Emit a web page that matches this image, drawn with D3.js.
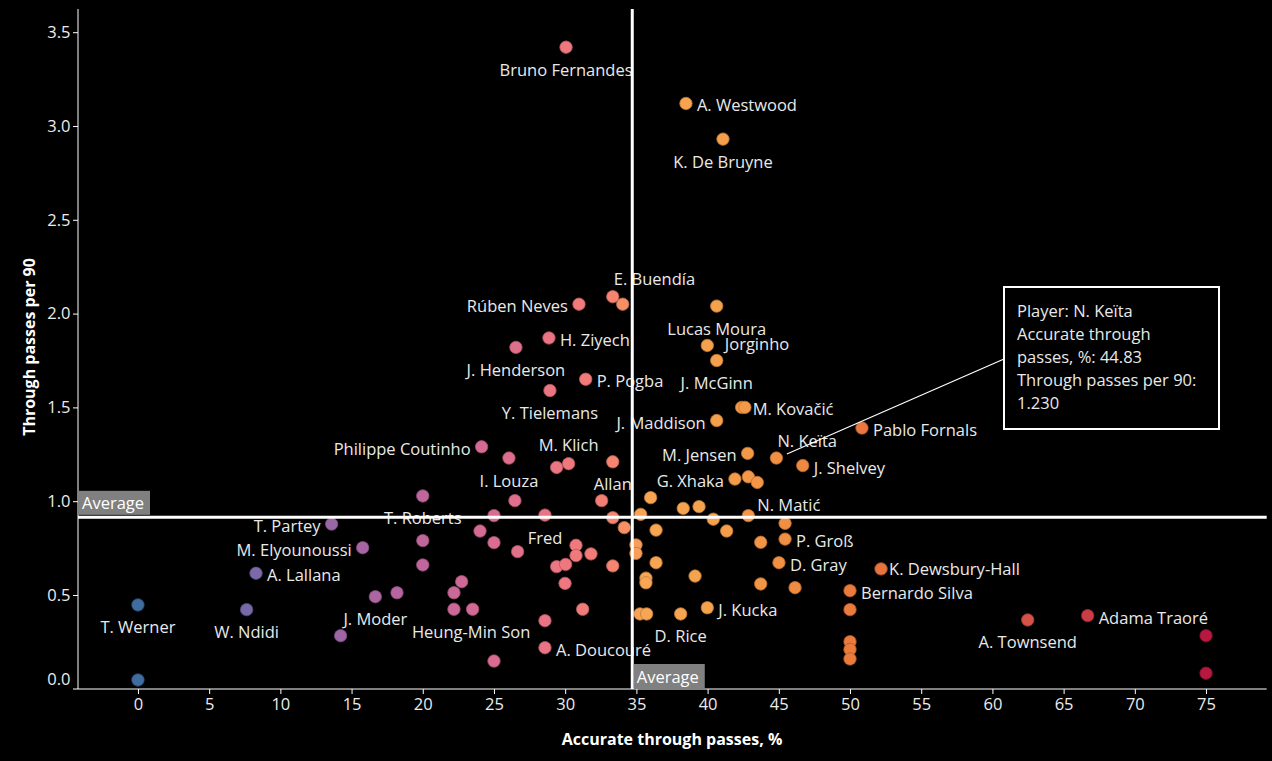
<!DOCTYPE html>
<html>
<head>
<meta charset="utf-8">
<script src="https://cdn.jsdelivr.net/npm/d3@7/dist/d3.min.js"></script>
<style>
  html, body { margin: 0; padding: 0; background: #000; }
  svg { display: block; }
  text { font-family: "Open Sans", sans-serif; }
</style>
</head>
<body>
<svg id="chart" width="1272" height="761"></svg>
<script>
// ---------------- DATA ----------------
const players = [
  "Bruno Fernandes","A. Westwood","K. De Bruyne","E. Buendía","","Rúben Neves","H. Ziyech","J. Henderson",
  "P. Pogba","Y. Tielemans","Lucas Moura","Jorginho","J. McGinn","M. Kovačić","","J. Maddison",
  "N. Keïta","Pablo Fornals","J. Shelvey","M. Jensen","G. Xhaka","","",
  "Philippe Coutinho","I. Louza","","M. Klich","Allan","","","T. Roberts","","Fred","","","","","",
  "","","","","","","","","","","","Heung-Min Son","J. Moder","","","",
  "T. Partey","M. Elyounoussi","A. Lallana","T. Werner","","W. Ndidi","","","A. Doucouré","",
  "","","","","","","","","","N. Matić","","P. Groß","","D. Gray","","","","","","",
  "Bernardo Silva","","J. Kucka","D. Rice","","","","","","K. Dewsbury-Hall","A. Townsend","Adama Traoré","",""
];
const accuratePct = [
  30.06,38.48,41.08,33.34,34.04,30.97,28.86,26.54,
  31.44,28.93,40.64,39.98,40.64,42.39,42.62,40.64,
  44.83,50.84,46.68,42.81,41.92,42.86,43.49,
  24.13,26.05,29.40,30.24,33.34,26.47,32.56,20.00,25.00,28.58,33.34,34.15,24.02,25.00,26.66,
  30.76,30.76,31.81,33.34,29.40,30.03,29.99,31.23,22.73,22.19,22.19,23.50,16.67,18.19,20.00,20.00,
  13.60,15.78,8.29,0.00,0.00,7.63,14.23,28.58,28.58,25.00,
  34.97,34.97,36.38,36.00,35.30,38.29,39.40,40.40,41.34,42.86,45.44,45.44,43.73,45.01,36.38,35.67,35.67,39.12,43.73,46.14,
  50.00,50.00,39.98,38.11,35.25,35.72,50.00,50.00,50.00,52.18,62.48,66.69,75.00,75.00
];
const throughPer90 = [
  3.42,3.12,2.93,2.09,2.05,2.05,1.87,1.82,
  1.65,1.59,2.04,1.83,1.75,1.50,1.50,1.43,
  1.23,1.39,1.19,1.255,1.118,1.13,1.10,
  1.29,1.23,1.18,1.20,1.21,1.003,1.003,1.028,0.923,0.926,0.912,0.859,0.841,0.779,0.731,
  0.765,0.71,0.719,0.655,0.651,0.663,0.562,0.424,0.571,0.512,0.424,0.424,0.491,0.512,0.79,0.66,
  0.878,0.752,0.616,0.447,0.047,0.422,0.283,0.363,0.219,0.148,
  0.767,0.722,0.846,1.019,0.93,0.962,0.971,0.904,0.841,0.923,0.882,0.798,0.781,0.672,0.672,0.59,0.565,0.601,0.559,0.539,
  0.523,0.422,0.432,0.399,0.399,0.399,0.251,0.21,0.159,0.639,0.367,0.39,0.283,0.083
];
const avgAccurate = 34.71;
const avgThrough = 0.914;
const xTicks = [0,5,10,15,20,25,30,35,40,45,50,55,60,65,70,75];
const yTicks = [0,0.5,1,1.5,2,2.5,3,3.5];
const xTitle = "Accurate through passes, %";
const yTitle = "Through passes per 90";
const avgLabel = "Average";
const tooltipPlayer = "N. Keïta";
const tooltipLines = ["Player: N. Keïta","Accurate through","passes, %: 44.83","Through passes per 90:","1.230"];

// label placement (style): [anchor, dx, dy]
const R = ["start", 11, 1.5], L = ["end", -11, 1.5], B = ["middle", 0, 22], A = ["middle", 0, -19];
const labelPlace = {
  "Bruno Fernandes": B, "A. Westwood": R, "K. De Bruyne": B, "E. Buendía": ["start", 1, -18.5],
  "Rúben Neves": L, "H. Ziyech": R, "J. Henderson": B, "P. Pogba": R, "Y. Tielemans": B,
  "Lucas Moura": B, "Jorginho": ["start", 17.5, -2], "J. McGinn": B, "M. Kovačić": R, "J. Maddison": L,
  "N. Keïta": ["start", 1, -17.5], "Pablo Fornals": R, "J. Shelvey": R, "M. Jensen": L, "G. Xhaka": L,
  "Philippe Coutinho": L, "I. Louza": B, "M. Klich": A, "Allan": B, "T. Roberts": B, "Fred": B,
  "Heung-Min Son": ["middle", -1.5, 22.5], "J. Moder": B, "T. Partey": L, "M. Elyounoussi": L, "A. Lallana": R,
  "T. Werner": B, "W. Ndidi": B, "A. Doucouré": R, "N. Matić": ["start", 9, -11], "P. Groß": R,
  "D. Gray": R, "Bernardo Silva": R, "J. Kucka": R, "D. Rice": B, "K. Dewsbury-Hall": ["start", 8, 0],
  "A. Townsend": B, "Adama Traoré": R
};

// ---------------- CHART ----------------
const svg = d3.select("#chart");
const x = d3.scaleLinear().domain([-4.21, 79.26]).range([78, 1266.7]);
const y = d3.scaleLinear().domain([0, 3.622]).range([688.8, 9.3]);

const color = d3.scaleLinear()
  .domain([0, 8, 15, 20, 25, 30, 33, 35.5, 40, 44, 50, 62, 67, 75])
  .range(["#3f6da0","#7a69a8","#a266a4","#bf669d","#da6c91","#ef777f","#f47f74","#f8a653","#f6a24d","#f29444","#eb7a3d","#d65449","#ca3a45","#b6183f"])
  .interpolate(d3.interpolateRgb)
  .clamp(true);

const data = players.map((p, i) => ({ name: p, ax: accuratePct[i], tp: throughPer90[i] }));

// axes
const yAxis = d3.axisLeft(y).tickValues(yTicks).tickSize(5).tickSizeOuter(0).tickFormat(d3.format(".1f"));
const gy = svg.append("g").attr("transform", "translate(78,0)").call(yAxis);
gy.select(".domain").remove();
gy.selectAll(".tick line").attr("stroke", "#fff");
gy.selectAll(".tick text").attr("fill", "#ececec").style("font-size", "16.5px").attr("x", -7.5)
  .attr("dy", d => d === 0 ? "-0.28em" : "0.32em");
gy.selectAll(".tick").filter(d => d === 0).select("line").remove();

const xAxis = d3.axisBottom(x).tickValues(xTicks).tickSize(5).tickSizeOuter(0);
const gx = svg.append("g").attr("transform", "translate(0,689)").call(xAxis);
gx.select(".domain").remove();
gx.selectAll(".tick line").attr("stroke", "#fff");
gx.selectAll(".tick text").attr("fill", "#ececec").style("font-size", "16.5px").attr("y", 9).attr("dy", "0.71em");

svg.append("line").attr("x1", 78).attr("x2", 78).attr("y1", 9).attr("y2", 689).attr("stroke", "#fff").attr("stroke-width", 1);
svg.append("line").attr("x1", 73).attr("x2", 1266.7).attr("y1", 689).attr("y2", 689).attr("stroke", "#fff").attr("stroke-width", 1);

// titles
svg.append("text").attr("x", 672).attr("y", 739).attr("text-anchor", "middle").attr("dominant-baseline", "central")
  .attr("fill", "#fff").style("font-size", "16px").style("font-weight", "700").text(xTitle);
svg.append("text").attr("transform", "translate(29,347) rotate(-90)").attr("text-anchor", "middle").attr("dominant-baseline", "central")
  .attr("fill", "#fff").style("font-size", "16px").style("font-weight", "700").text(yTitle);

// dots
svg.append("g").selectAll("circle").data(data).join("circle")
  .attr("cx", d => x(d.ax)).attr("cy", d => y(d.tp)).attr("r", 6.2)
  .attr("fill", d => color(d.ax))
  .attr("stroke", d => d3.color(color(d.ax)).darker(0.8))
  .attr("stroke-width", 0.8);

// labels
svg.append("g").selectAll("text").data(data.filter(d => d.name && labelPlace[d.name])).join("text")
  .attr("x", d => x(d.ax) + labelPlace[d.name][1])
  .attr("y", d => y(d.tp) + labelPlace[d.name][2])
  .attr("text-anchor", d => labelPlace[d.name][0])
  .attr("dominant-baseline", "central")
  .attr("fill", "#e9e9e9").style("font-size", "16.5px")
  .text(d => d.name);

// average lines
svg.append("line").attr("x1", 78).attr("x2", 1266.7).attr("y1", y(avgThrough)).attr("y2", y(avgThrough))
  .attr("stroke", "#fff").attr("stroke-width", 3);
svg.append("line").attr("x1", x(avgAccurate)).attr("x2", x(avgAccurate)).attr("y1", 9).attr("y2", 689)
  .attr("stroke", "#fff").attr("stroke-width", 3);

// average labels
const hx = 79, hy = y(avgThrough) - 26.5;
svg.append("rect").attr("x", hx).attr("y", hy).attr("width", 71).attr("height", 24).attr("fill", "#808080");
svg.append("text").attr("x", hx + 3).attr("y", hy + 12).attr("dominant-baseline", "central").attr("fill", "#fff")
  .style("font-size", "16.5px").text(avgLabel);
const vx = x(avgAccurate) + 1.5, vy = 664;
svg.append("rect").attr("x", vx).attr("y", vy).attr("width", 71).attr("height", 24).attr("fill", "#808080");
svg.append("text").attr("x", vx + 3).attr("y", vy + 12).attr("dominant-baseline", "central").attr("fill", "#fff")
  .style("font-size", "16.5px").text(avgLabel);

// tooltip annotation
const tp = data.find(d => d.name === tooltipPlayer);
svg.append("line").attr("x1", x(tp.ax) + 10.5).attr("y1", y(tp.tp) - 4).attr("x2", 1004).attr("y2", 359)
  .attr("stroke", "#fff").attr("stroke-width", 1.2);
svg.append("rect").attr("x", 1004).attr("y", 287).attr("width", 215).attr("height", 142)
  .attr("fill", "#000").attr("stroke", "#fff").attr("stroke-width", 2);
svg.append("g").selectAll("text").data(tooltipLines).join("text")
  .attr("x", 1017).attr("y", (d, i) => 310.7 + i * 22.9).attr("dominant-baseline", "central")
  .attr("fill", "#e9e9e9").style("font-size", "16.5px").text(d => d);
</script>
</body>
</html>
